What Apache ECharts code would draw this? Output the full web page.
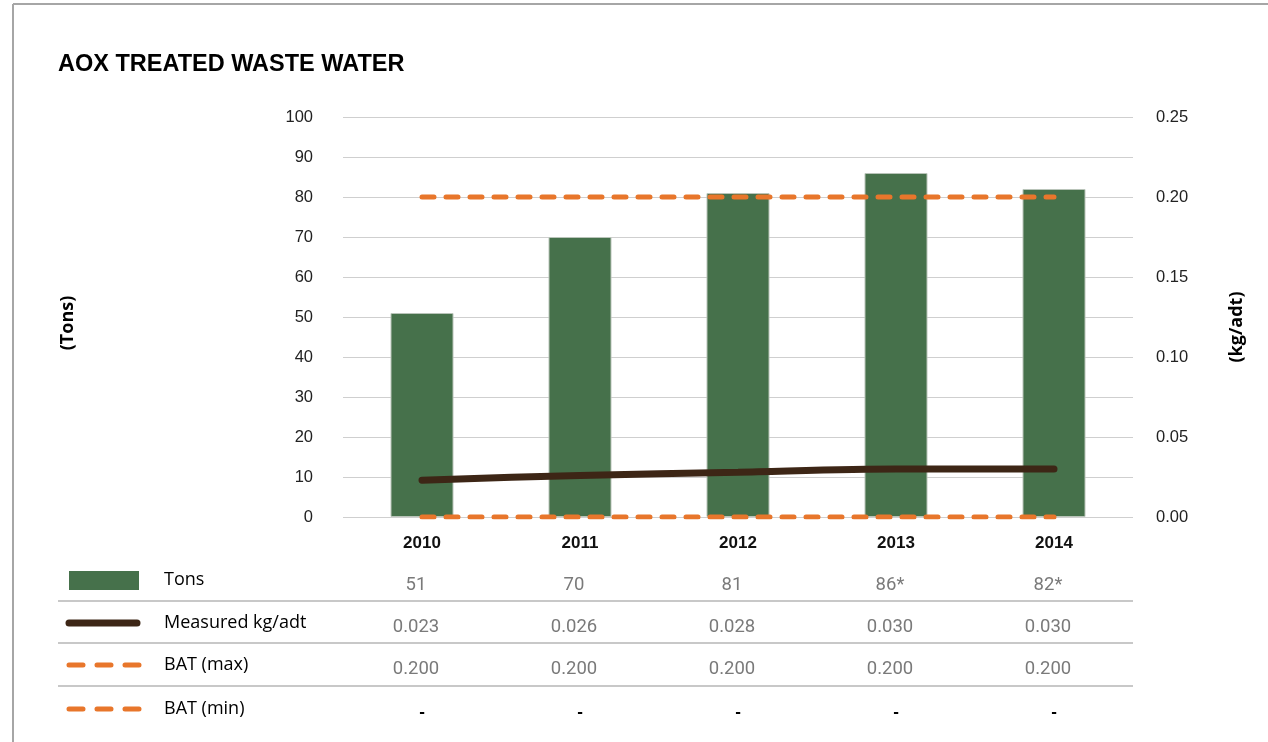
<!DOCTYPE html>
<html>
<head>
<meta charset="utf-8">
<script src="https://cdn.jsdelivr.net/npm/echarts@6/dist/echarts.min.js"></script>
<style>
  html, body { margin: 0; padding: 0; background: #fff; }
  #main { width: 1268px; height: 742px; }
</style>
</head>
<body>
<div id="main"></div>
<script>
// 数据
var years = ["2010", "2011", "2012", "2013", "2014"];
var tons = [51, 70, 81, 86, 82];
var tonsLabels = ["51", "70", "81", "86*", "82*"];
var measured = [0.023, 0.026, 0.028, 0.030, 0.030];
var batMax = [0.2, 0.2, 0.2, 0.2, 0.2];
var batMin = [0, 0, 0, 0, 0]; // shown as "-" in the table
var measuredLabels = ["0.023", "0.026", "0.028", "0.030", "0.030"];
var batMaxLabels = ["0.200", "0.200", "0.200", "0.200", "0.200"];
var batMinLabels = ["-", "-", "-", "-", "-"];

var green = "#46714b";
var brown = "#3d2616";
var orange = "#e8762b";
var dash = [12, 12];

var myChart = echarts.init(document.getElementById("main"));

var option = {
  animation: false,
  backgroundColor: "#fff",
  title: {
    text: "AOX TREATED WASTE WATER",
    left: 53,
    top: 48,
    textStyle: {
      fontFamily: "Liberation Sans",
      fontSize: 23.5,
      fontWeight: "bold",
      color: "#000"
    }
  },
  grid: {
    left: 343,
    right: 135,
    top: 117,
    height: 400
  },
  xAxis: {
    type: "category",
    data: years,
    axisLine: { show: false },
    axisTick: { show: false },
    axisLabel: {
      margin: 18,
      fontFamily: "Liberation Sans",
      fontSize: 17,
      fontWeight: "bold",
      color: "#111"
    }
  },
  yAxis: [
    {
      type: "value",
      min: 0,
      max: 100,
      interval: 10,
      axisLine: { show: false },
      axisTick: { show: false },
      axisLabel: {
        margin: 30,
        fontFamily: "Liberation Sans",
        fontSize: 16.5,
        color: "#222"
      },
      splitLine: { lineStyle: { color: "#cfcfcf", width: 1.2 } }
    },
    {
      type: "value",
      min: 0,
      max: 0.25,
      interval: 0.05,
      axisLine: { show: false },
      axisTick: { show: false },
      axisLabel: {
        margin: 23,
        fontFamily: "Liberation Sans",
        fontSize: 16.5,
        color: "#222",
        formatter: function (v) { return v.toFixed(2); }
      },
      splitLine: { show: false }
    }
  ],
  series: [
    {
      name: "Tons",
      type: "bar",
      data: tons,
      barWidth: 63,
      itemStyle: { color: green, borderColor: "#b9c4b9", borderWidth: 1 }
    },
    {
      name: "Measured kg/adt",
      type: "line",
      yAxisIndex: 1,
      data: measured,
      smooth: 0.3,
      symbol: "none",
      lineStyle: { color: brown, width: 7, cap: "round" },
      z: 5
    },
    {
      name: "BAT (max)",
      type: "line",
      yAxisIndex: 1,
      data: batMax,
      symbol: "none",
      lineStyle: { color: orange, width: 5, type: dash, cap: "round" },
      z: 6
    },
    {
      name: "BAT (min)",
      type: "line",
      yAxisIndex: 1,
      data: batMin,
      symbol: "none",
      lineStyle: { color: orange, width: 5, type: dash, cap: "round" },
      z: 6
    }
  ]
};

myChart.setOption(option);

// 数据表格 (legend + values under the chart)
function buildTable() {
  var g = [];
  // frame
  g.push({ type: "line", shape: { x1: 13, y1: 4, x2: 1268, y2: 4 }, style: { stroke: "#a6a6a6", lineWidth: 2 } });
  g.push({ type: "line", shape: { x1: 13, y1: 4, x2: 13, y2: 742 }, style: { stroke: "#a6a6a6", lineWidth: 2 } });

  // axis titles
  var axisTitle = { fontFamily: "Open Sans", fontSize: 18, fontWeight: "bold", fill: "#000", align: "center", verticalAlign: "middle" };
  g.push({ type: "text", x: 68, y: 323, rotation: Math.PI / 2, style: Object.assign({ text: "(Tons)" }, axisTitle) });
  g.push({ type: "text", x: 1237, y: 327, rotation: Math.PI / 2, style: Object.assign({ text: "(kg/adt)" }, axisTitle) });

  var rows = [
    { name: "Tons", labels: tonsLabels, y: 580, vy: 585, icon: "bar" },
    { name: "Measured kg/adt", labels: measuredLabels, y: 623, vy: 627, icon: "line" },
    { name: "BAT (max)", labels: batMaxLabels, y: 665, vy: 669, icon: "dash" },
    { name: "BAT (min)", labels: batMinLabels, y: 709, vy: 712, icon: "dash" }
  ];
  var seps = [601, 643, 686];
  seps.forEach(function (y) {
    g.push({ type: "line", shape: { x1: 58, y1: y, x2: 1133, y2: y }, style: { stroke: "#c8c8c8", lineWidth: 2 } });
  });

  rows.forEach(function (r) {
    if (r.icon === "bar") {
      g.push({ type: "rect", shape: { x: 69, y: r.y - 9, width: 70, height: 19 }, style: { fill: green } });
    } else if (r.icon === "line") {
      g.push({ type: "line", shape: { x1: 69, y1: r.y, x2: 137, y2: r.y }, style: { stroke: brown, lineWidth: 7, lineCap: "round" } });
    } else {
      g.push({ type: "line", shape: { x1: 69, y1: r.y, x2: 139, y2: r.y }, style: { stroke: orange, lineWidth: 5, lineCap: "round", lineDash: [14, 14] } });
    }
    g.push({
      type: "text",
      x: 164, y: r.y,
      style: { text: r.name, fontFamily: "Open Sans", fontSize: 18, fill: "#000", verticalAlign: "middle", align: "left" }
    });
    r.labels.forEach(function (t, i) {
      var x = myChart.convertToPixel({ xAxisIndex: 0 }, years[i]);
      var isDash = t === "-";
      g.push({
        type: "text",
        x: isDash ? x : x - 6, y: r.vy,
        style: {
          text: t,
          fontFamily: isDash ? "Liberation Sans" : "Roboto",
          fontSize: isDash ? 17 : 18.5,
          fontWeight: isDash ? "bold" : "normal",
          fill: isDash ? "#000" : "#7a7a7a",
          align: "center",
          verticalAlign: "middle"
        }
      });
    });
  });
  myChart.setOption({ graphic: { elements: g } });
}
buildTable();
</script>
</body>
</html>
